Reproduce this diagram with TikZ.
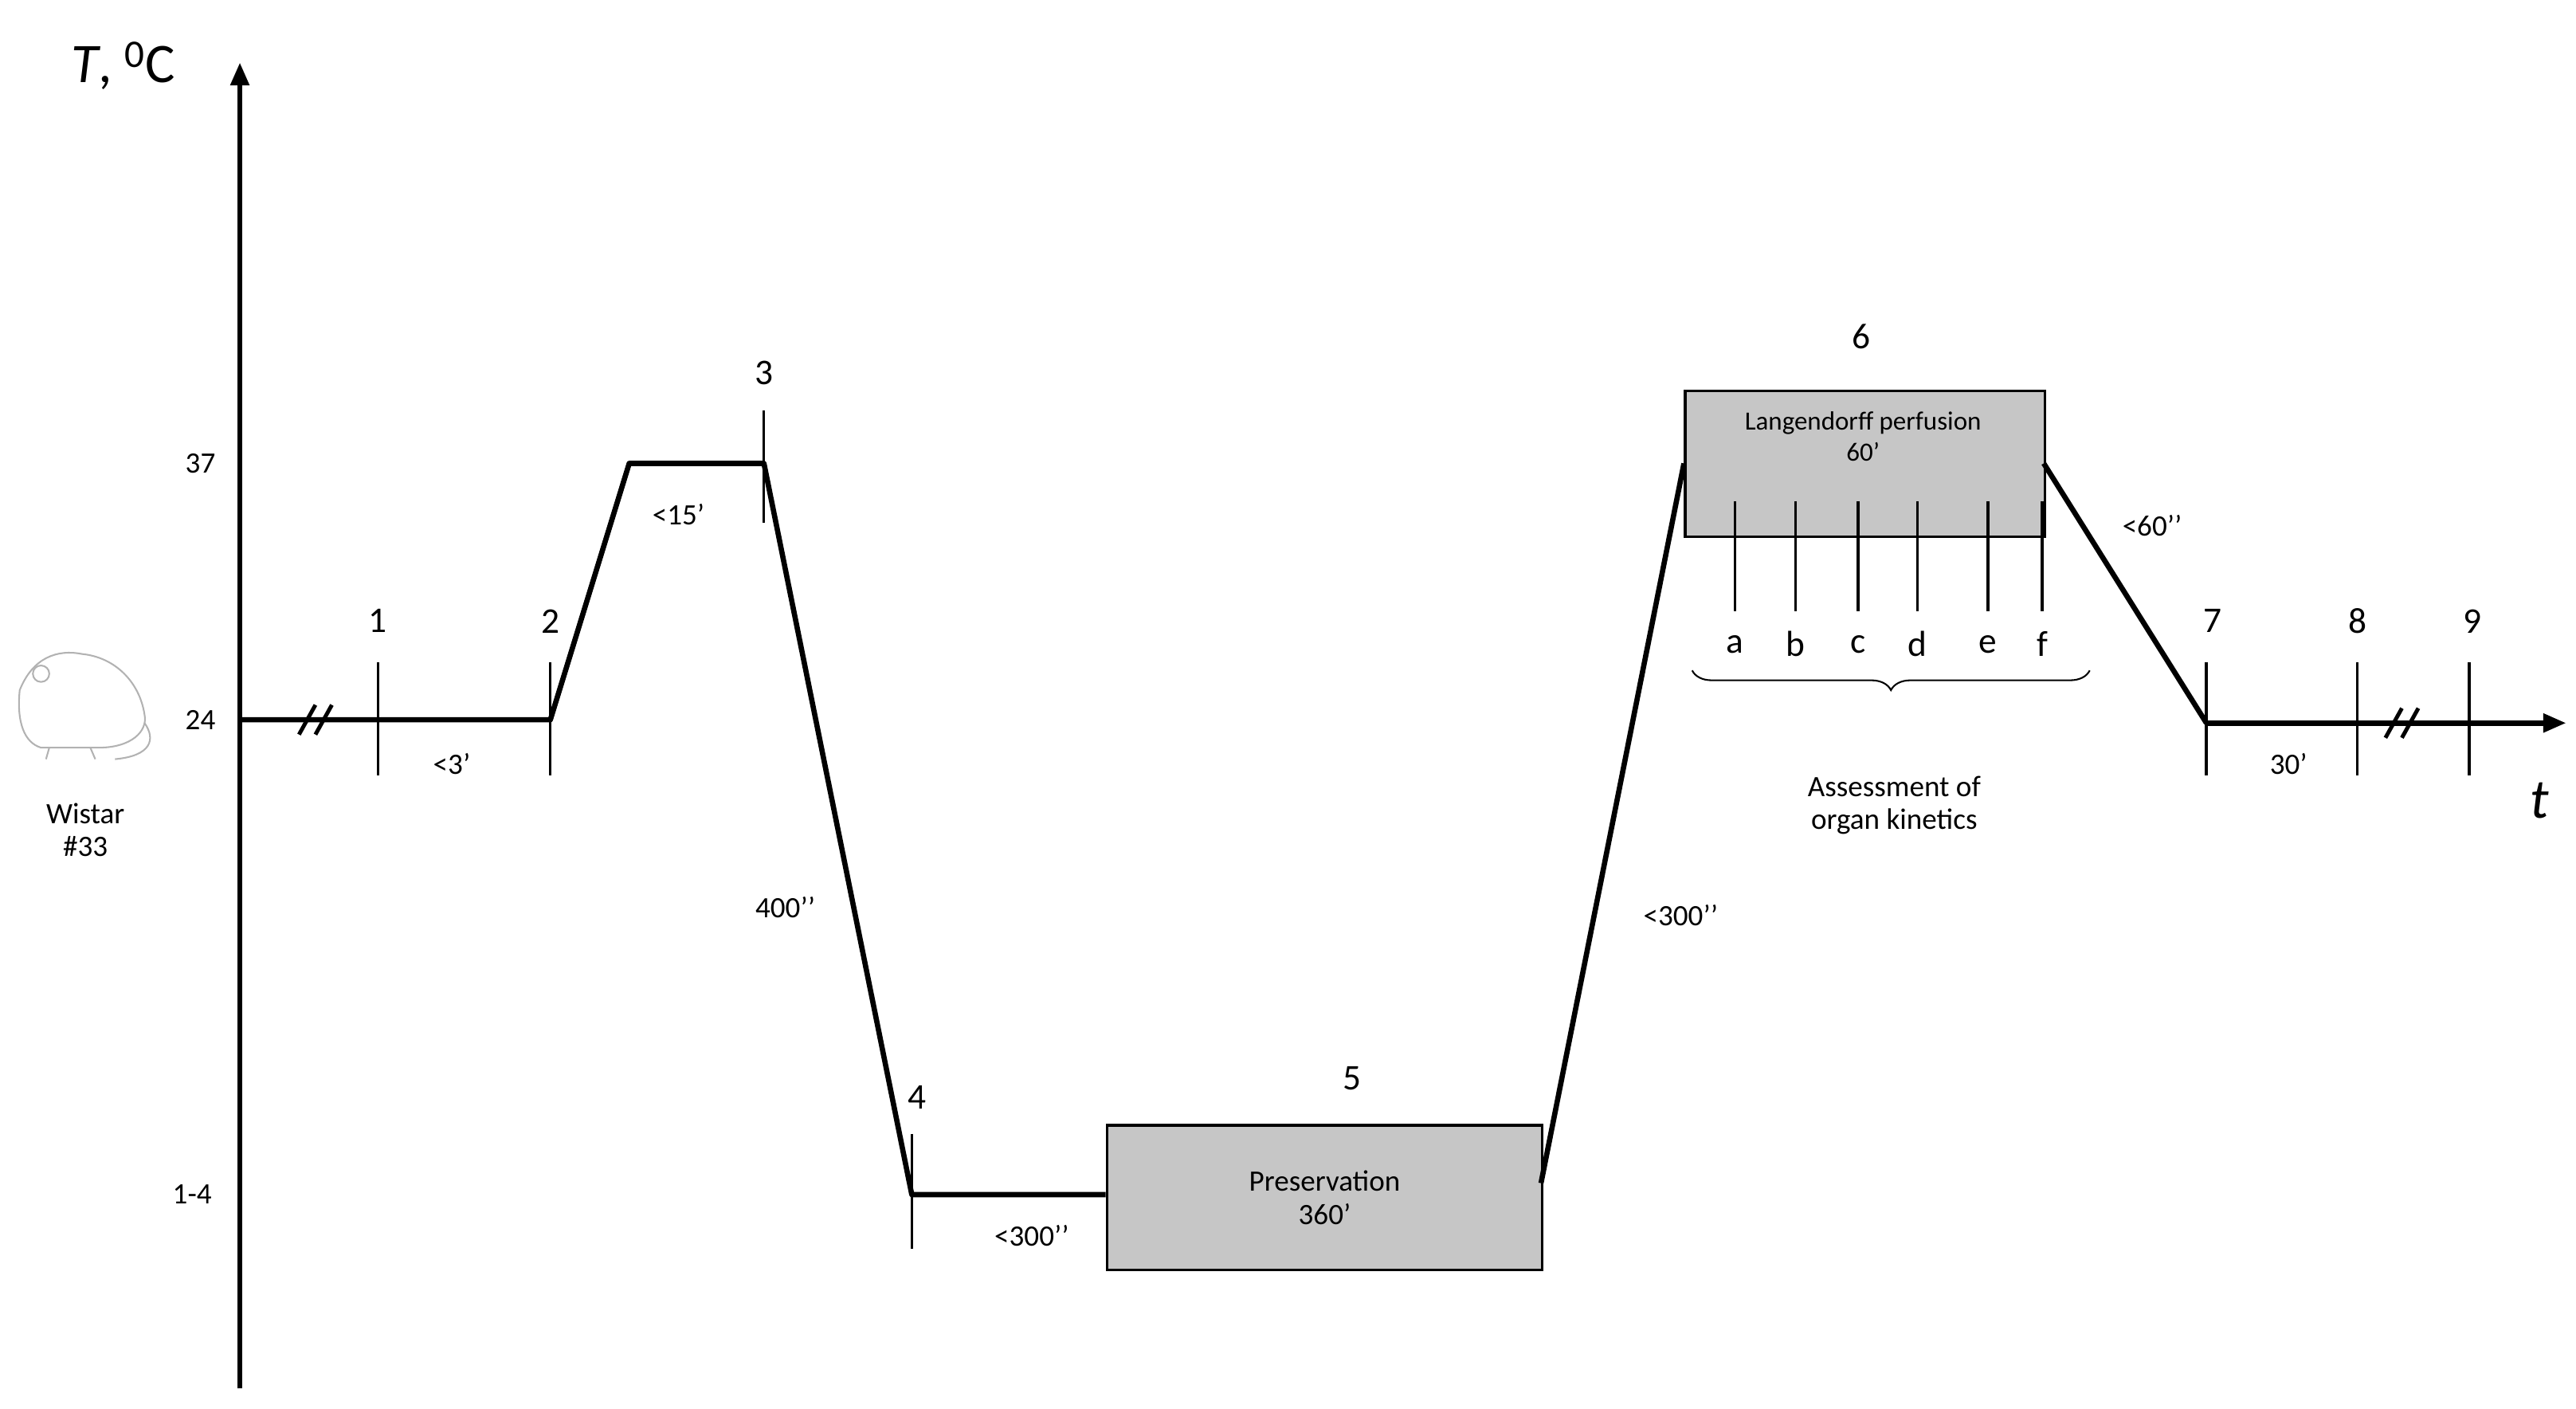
\documentclass[tikz,border=0pt]{standalone}
\usepackage{fontspec}
\setmainfont{Carlito}
\usetikzlibrary{arrows.meta,decorations.pathreplacing}
\begin{document}
\begin{tikzpicture}[x=1pt,y=-1pt,
  curve/.style={line width=3.2pt,line join=round},
  axis/.style={line width=3.2pt,-{Triangle[length=14pt,width=11pt]}},
  tk/.style={line width=1.6pt},
  num/.style={font=\fontsize{22}{24}\selectfont},
  lab/.style={font=\fontsize{18}{20}\selectfont},
  box/.style={draw,line width=1.6pt,fill=gray!45}]
\useasboundingbox (0,0) rectangle (1568,857);
% axes
\coordinate (o) at (146,845);
\coordinate (ytop) at (146,38);
\draw[axis] (o) -- (ytop);
\node[font=\fontsize{34}{36}\selectfont] (ylab) at (75,40) {\textit{T}, \textsuperscript{0}C};
\node[lab] (y37) at (122,282) {37};
\node[lab] (y24) at (122,438) {24};
\node[lab] (y14) at (117,727) {1-4};
% curve points
\coordinate (p0) at (146,438);
\coordinate (p1) at (230,438);
\coordinate (p2) at (335,438);
\coordinate (p2b) at (383,282);
\coordinate (p3) at (465,282);
\coordinate (p4) at (555,727);
\coordinate (p4b) at (673,727);
\coordinate (p5e) at (938,720);
\coordinate (p6s) at (1025,282);
\coordinate (p6e) at (1244,282);
\coordinate (p7) at (1343,440);
\coordinate (xend) at (1562,440);
\node[box,minimum width=265pt,minimum height=88pt,anchor=north west,lab,align=center] (b5) at (673,684) {Preservation\\360’};
\draw[curve] (p0) -- (p1) -- (p2) -- (p2b) -- (p3) -- (p4) -- (p4b);
\draw[curve] (p5e) -- (p6s);
\node[box,minimum width=219pt,minimum height=89pt,anchor=north west] (b6) at (1025,237) {};
\node[font=\fontsize{16}{19}\selectfont,align=center,anchor=north] (b6t) at (1134,247) {Langendorff perfusion\\60’};
\draw[curve] (p6e) -- (p7);
\draw[axis] (p7) -- (xend);
\node[font=\fontsize{34}{36}\selectfont] (tlab) at (1546,487) {\textit{t}};
% breaks
\foreach \x in {182,192}{\draw[line width=2.4pt] (\x,447) -- (\x+10,429);}
\foreach \x in {1452,1462}{\draw[line width=2.4pt] (\x,449) -- (\x+10,431);}
% ticks
\draw[tk] (230,403) -- (230,472);
\draw[tk] (335,403) -- (335,472);
\draw[tk] (465,250) -- (465,318);
\draw[tk] (555,690) -- (555,760);
\draw[tk] (1343,403) -- (1343,472);
\draw[tk] (1435,403) -- (1435,472);
\draw[tk] (1503,403) -- (1503,472);
\foreach \x/\l in {1056/a,1093/b,1131/c,1167/d,1210/e,1243/f}{
  \draw[tk] (\x,305) -- (\x,372);
  \node[num] (l\l) at (\x,392) {\l};}
% numbers
\node[num] (n1) at (230,378) {1};
\node[num] (n2) at (335,378) {2};
\node[num] (n3) at (465,227) {3};
\node[num] (n4) at (558,668) {4};
\node[num] (n5) at (823,656) {5};
\node[num] (n6) at (1133,205) {6};
\node[num] (n7) at (1347,378) {7};
\node[num] (n8) at (1435,378) {8};
\node[num] (n9) at (1505,378) {9};
% durations
\node[lab] (d1) at (275,465) {<3’};
\node[lab] (d2) at (413,313) {<15’};
\node[lab] (d3) at (478,552) {400’’};
\node[lab] (d4) at (628,752) {<300’’};
\node[lab] (d5) at (1023,557) {<300’’};
\node[lab] (d6) at (1310,320) {<60’’};
\node[lab] (d7) at (1393,465) {30’};
% brace
\draw[line width=1pt,decorate,decoration={brace,mirror,amplitude=12pt}] (1030,408) -- (1272,408);
\node[lab,align=center] (ass) at (1153,490) {Assessment of\\organ kinetics};
% rat
\begin{scope}[draw=gray!60,line width=1pt]
\draw (12,420) .. controls (20,400) and (35,395) .. (50,398) .. controls (70,400) and (85,415) .. (88,435) .. controls (90,445) and (80,455) .. (60,455) -- (25,455) .. controls (15,452) and (10,440) .. (12,420);
\draw (88,440) .. controls (95,450) and (92,460) .. (70,462);
\draw (25,410) circle (5pt);
\draw (30,455) -- (28,462) (55,455) -- (58,462);
\end{scope}
\node[lab,align=center] (wistar) at (52,505) {Wistar\\\#33};
\end{tikzpicture}
\end{document}
